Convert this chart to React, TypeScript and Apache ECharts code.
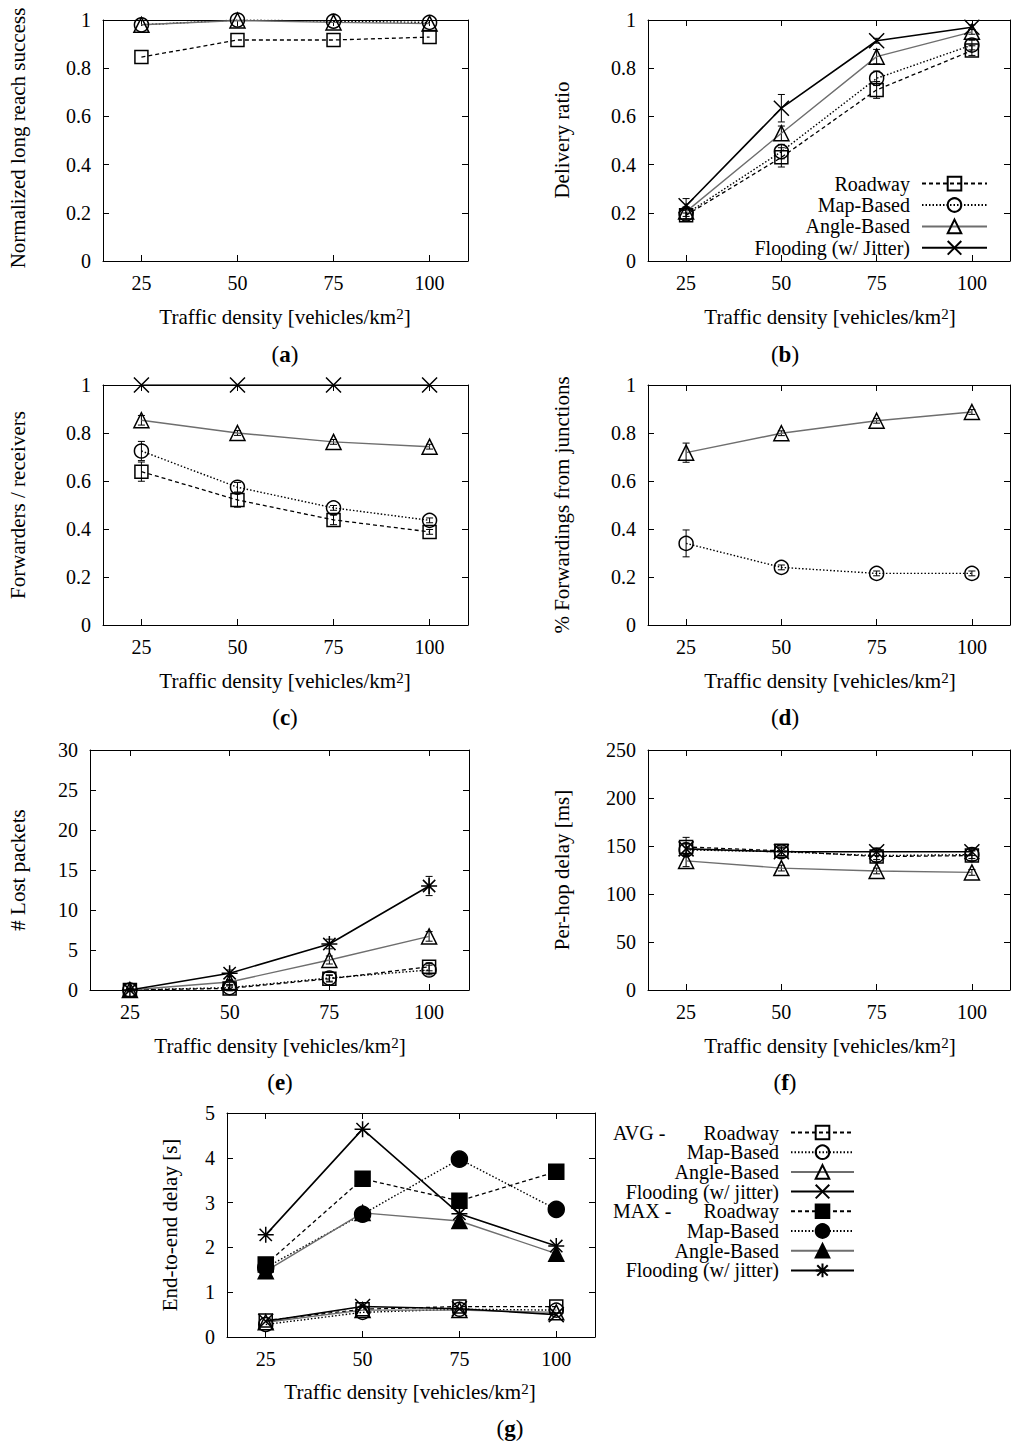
import React, { useEffect, useRef } from "react";
import * as echarts from "echarts";

const FONT = "'Liberation Serif', 'Times New Roman', serif";

// ---------- data ----------
const densities = [25, 50, 75, 100];

// (a) Normalized long reach success
const aRoadway = [0.846, 0.917, 0.917, 0.929];
const aMap = [0.98, 1.0, 0.995, 0.99];
const aAngle = [0.98, 0.998, 0.99, 0.985];

// (b) Delivery ratio
const bRoadway = [0.19, 0.43, 0.71, 0.873];
const bMap = [0.195, 0.454, 0.758, 0.896];
const bAngle = [0.205, 0.53, 0.848, 0.951];
const bFlood = [0.229, 0.634, 0.914, 0.97];
const bRoadwayErr = [0.02, 0.04, 0.035, 0.02];
const bMapErr = [0.02, 0.03, 0.03, 0.02];
const bAngleErr = [0.02, 0.03, 0.03, 0.01];
const bFloodErr = [0.03, 0.057, 0.01, 0.01];

// (c) Forwarders / receivers
const cRoadway = [0.639, 0.521, 0.438, 0.388];
const cMap = [0.725, 0.574, 0.488, 0.436];
const cAngle = [0.853, 0.8, 0.763, 0.743];
const cFlood = [1, 1, 1, 1];
const cRoadwayErr = [0.04, 0.03, 0.02, 0.01];
const cMapErr = [0.04, 0.02, 0.01, 0.01];
const cAngleErr = [0.02, 0.01, 0.01, 0.01];

// (d) % Forwardings from junctions
const dMap = [0.34, 0.24, 0.215, 0.215];
const dAngle = [0.718, 0.799, 0.851, 0.8875];
const dMapErr = [0.056, 0.01, 0.01, 0.01];
const dAngleErr = [0.04, 0.01, 0.01, 0.01];

// (e) # Lost packets
const eRoadway = [0, 0.2, 1.4, 2.9];
const eMap = [0, 0.3, 1.5, 2.5];
const eAngle = [0, 1.0, 3.75, 6.7];
const eFlood = [0, 2.1, 5.75, 13.0];
const eRoadwayErr = [0.1, 0.3, 0.4, 0.5];
const eMapErr = [0.1, 0.3, 0.4, 0.6];
const eAngleErr = [0.1, 0.3, 0.5, 0.6];
const eFloodErr = [0.1, 0.4, 0.6, 1.2];

// (f) Per-hop delay [ms]
const fRoadway = [149, 145, 139, 140];
const fMap = [146, 144, 140, 141];
const fAngle = [134.5, 127, 124, 122.5];
const fFlood = [147, 144, 144, 144];
const fRoadwayErr = [10, 5, 5, 5];
const fMapErr = [6, 4, 4, 4];
const fAngleErr = [6, 3, 3, 3];
const fFloodErr = [6, 4, 4, 4];

// (g) End-to-end delay [s]
const gAvgRoadway = [0.37, 0.62, 0.68, 0.68];
const gAvgMap = [0.28, 0.55, 0.62, 0.6];
const gAvgAngle = [0.33, 0.6, 0.6, 0.55];
const gAvgFlood = [0.35, 0.68, 0.63, 0.5];
const gMaxRoadway = [1.62, 3.53, 3.04, 3.69];
const gMaxMap = [1.55, 2.74, 3.97, 2.85];
const gMaxAngle = [1.47, 2.77, 2.59, 1.86];
const gMaxFlood = [2.28, 4.64, 2.75, 2.03];

const yTitleTexts = [
  "Normalized long reach success",
  "Delivery ratio",
  "Forwarders / receivers",
  "% Forwardings from junctions",
  "# Lost packets",
  "Per-hop delay [ms]",
  "End-to-end delay [s]",
];
const panelLetters = ["a", "b", "c", "d", "e", "f", "g"];
const yMaxes = [1, 1, 1, 1, 30, 250, 5];
const yIntervals = [0.2, 0.2, 0.2, 0.2, 5, 50, 1];

// ---------- layout ----------
const PANELS = [
  { left: 103, top: 20, width: 365, height: 241, yt: [18, 138], xt: [285, 317], pl: [285, 354] },
  { left: 648, top: 20, width: 362, height: 241, yt: [562, 140], xt: [830, 317], pl: [785, 354] },
  { left: 103, top: 385, width: 365, height: 240, yt: [18, 505], xt: [285, 681], pl: [285, 717] },
  { left: 648, top: 385, width: 362, height: 240, yt: [562, 505], xt: [830, 681], pl: [785, 717] },
  { left: 90, top: 750, width: 379, height: 240, yt: [18, 870], xt: [280, 1046], pl: [280, 1082] },
  { left: 648, top: 750, width: 362, height: 240, yt: [562, 870], xt: [830, 1046], pl: [785, 1082] },
  { left: 227, top: 1113, width: 368, height: 224, yt: [170, 1225], xt: [410, 1392], pl: [510, 1428] },
];

const X_PATH = "path://M0,0L10,10M10,0L0,10";
const STAR_PATH = "path://M0,0L10,10M10,0L0,10M5,-1.5L5,11.5M-1.5,5L11.5,5";

const STYLES: Record<string, any> = {
  roadway: { lineStyle: { color: "#000", width: 1.3, type: [4, 3] }, symbol: "rect", size: 13 },
  map: { lineStyle: { color: "#000", width: 1.4, type: [1.5, 2] }, symbol: "circle", size: 14 },
  angle: { lineStyle: { color: "#6e6e6e", width: 1.4, type: "solid" }, symbol: "triangle", size: 15 },
  flood: { lineStyle: { color: "#000", width: 1.6, type: "solid" }, symbol: X_PATH, size: 15 },
  roadwayMax: { lineStyle: { color: "#000", width: 1.3, type: [4, 3] }, symbol: "rect", size: 15, filled: true },
  mapMax: { lineStyle: { color: "#000", width: 1.4, type: [1.5, 2] }, symbol: "circle", size: 16, filled: true },
  angleMax: { lineStyle: { color: "#6e6e6e", width: 1.4, type: "solid" }, symbol: "triangle", size: 15, filled: true },
  floodMax: { lineStyle: { color: "#000", width: 1.6, type: "solid" }, symbol: STAR_PATH, size: 16 },
};

function lineSeries(name: string, panel: number, values: number[], styleKey: string) {
  const st = STYLES[styleKey];
  return {
    type: "line",
    name,
    xAxisIndex: panel * 2,
    yAxisIndex: panel * 2,
    data: densities.map((d, i) => [d, values[i]]),
    symbol: st.symbol,
    symbolSize: st.size,
    showSymbol: true,
    lineStyle: st.lineStyle,
    itemStyle: {
      color: st.filled ? "#000" : "rgba(255,255,255,0)",
      borderColor: "#000",
      borderWidth: 1.5,
    },
    emphasis: { disabled: true },
    silent: true,
    z: 3,
  };
}

function errSeries(panel: number, values: number[], errs: number[]) {
  return {
    type: "custom",
    xAxisIndex: panel * 2,
    yAxisIndex: panel * 2,
    coordinateSystem: "cartesian2d",
    silent: true,
    z: 2,
    encode: { x: 0, y: 1 },
    data: densities.map((d, i) => [d, values[i], errs[i]]),
    renderItem: (params: any, api: any) => {
      const x = api.value(0);
      const y = api.value(1);
      const e = api.value(2);
      const top = api.coord([x, y + e]);
      const bot = api.coord([x, y - e]);
      const w = 3.5;
      const style = { stroke: "#000", lineWidth: 1 };
      return {
        type: "group",
        children: [
          { type: "line", shape: { x1: top[0], y1: top[1], x2: bot[0], y2: bot[1] }, style },
          { type: "line", shape: { x1: top[0] - w, y1: top[1], x2: top[0] + w, y2: top[1] }, style },
          { type: "line", shape: { x1: bot[0] - w, y1: bot[1], x2: bot[0] + w, y2: bot[1] }, style },
        ],
      };
    },
  };
}

function buildOption() {
  const grids: any[] = [];
  const xAxes: any[] = [];
  const yAxes: any[] = [];
  const axisLine = { show: true, onZero: false, lineStyle: { color: "#000", width: 1 } };
  const labelStyle = { color: "#000", fontSize: 20, fontFamily: FONT, margin: 12 };

  PANELS.forEach((p, i) => {
    grids.push({ left: p.left, top: p.top, width: p.width, height: p.height, containLabel: false });
    const xBase = {
      type: "value",
      gridIndex: i,
      min: 15,
      max: 110,
      splitLine: { show: false },
      axisLine,
      axisTick: { show: true, inside: true, length: 6, customValues: densities, lineStyle: { color: "#000" } },
    };
    xAxes.push({ ...xBase, position: "bottom", axisLabel: { ...labelStyle, show: true, customValues: densities } });
    xAxes.push({ ...xBase, position: "top", axisLabel: { show: false } });
    const yBase = {
      type: "value",
      gridIndex: i,
      min: 0,
      max: yMaxes[i],
      interval: yIntervals[i],
      splitLine: { show: false },
      axisLine,
      axisTick: { show: true, inside: true, length: 6, lineStyle: { color: "#000" } },
    };
    yAxes.push({ ...yBase, position: "left", axisLabel: { ...labelStyle, show: true } });
    yAxes.push({ ...yBase, position: "right", axisLabel: { show: false } });
  });

  const series: any[] = [
    // (a)
    lineSeries("Roadway", 0, aRoadway, "roadway"),
    lineSeries("Map-Based", 0, aMap, "map"),
    lineSeries("Angle-Based", 0, aAngle, "angle"),
    // (b)
    errSeries(1, bRoadway, bRoadwayErr),
    errSeries(1, bMap, bMapErr),
    errSeries(1, bAngle, bAngleErr),
    errSeries(1, bFlood, bFloodErr),
    lineSeries("Roadway", 1, bRoadway, "roadway"),
    lineSeries("Map-Based", 1, bMap, "map"),
    lineSeries("Angle-Based", 1, bAngle, "angle"),
    lineSeries("Flooding (w/ Jitter)", 1, bFlood, "flood"),
    // (c)
    errSeries(2, cRoadway, cRoadwayErr),
    errSeries(2, cMap, cMapErr),
    errSeries(2, cAngle, cAngleErr),
    lineSeries("Roadway", 2, cRoadway, "roadway"),
    lineSeries("Map-Based", 2, cMap, "map"),
    lineSeries("Angle-Based", 2, cAngle, "angle"),
    lineSeries("Flooding (w/ Jitter)", 2, cFlood, "flood"),
    // (d)
    errSeries(3, dMap, dMapErr),
    errSeries(3, dAngle, dAngleErr),
    lineSeries("Map-Based", 3, dMap, "map"),
    lineSeries("Angle-Based", 3, dAngle, "angle"),
    // (e)
    errSeries(4, eRoadway, eRoadwayErr),
    errSeries(4, eMap, eMapErr),
    errSeries(4, eAngle, eAngleErr),
    errSeries(4, eFlood, eFloodErr),
    lineSeries("Roadway", 4, eRoadway, "roadway"),
    lineSeries("Map-Based", 4, eMap, "map"),
    lineSeries("Angle-Based", 4, eAngle, "angle"),
    lineSeries("Flooding (w/ Jitter)", 4, eFlood, "floodMax"),
    // (f)
    errSeries(5, fRoadway, fRoadwayErr),
    errSeries(5, fMap, fMapErr),
    errSeries(5, fAngle, fAngleErr),
    errSeries(5, fFlood, fFloodErr),
    lineSeries("Roadway", 5, fRoadway, "roadway"),
    lineSeries("Map-Based", 5, fMap, "map"),
    lineSeries("Angle-Based", 5, fAngle, "angle"),
    lineSeries("Flooding (w/ Jitter)", 5, fFlood, "flood"),
    // (g)
    lineSeries("AVG Roadway", 6, gAvgRoadway, "roadway"),
    lineSeries("AVG Map-Based", 6, gAvgMap, "map"),
    lineSeries("AVG Angle-Based", 6, gAvgAngle, "angle"),
    lineSeries("AVG Flooding (w/ jitter)", 6, gAvgFlood, "flood"),
    lineSeries("MAX Roadway", 6, gMaxRoadway, "roadwayMax"),
    lineSeries("MAX Map-Based", 6, gMaxMap, "mapMax"),
    lineSeries("MAX Angle-Based", 6, gMaxAngle, "angleMax"),
    lineSeries("MAX Flooding (w/ jitter)", 6, gMaxFlood, "floodMax"),
  ];

  const legendText = { color: "#000", fontSize: 20, fontFamily: FONT, padding: [0, 7, 0, 0] };
  const legends = [
    {
      data: ["Roadway", "Map-Based", "Angle-Based", "Flooding (w/ Jitter)"],
      orient: "vertical",
      align: "right",
      right: 36,
      top: 173.6,
      itemWidth: 65,
      itemHeight: 17,
      itemGap: 1.4,
      padding: 0,
      selectedMode: false,
      textStyle: legendText,
    },
    {
      data: [
        "AVG Roadway",
        "AVG Map-Based",
        "AVG Angle-Based",
        "AVG Flooding (w/ jitter)",
        "MAX Roadway",
        "MAX Map-Based",
        "MAX Angle-Based",
        "MAX Flooding (w/ jitter)",
      ],
      formatter: (name: string) => name.replace(/^(AVG|MAX) /, ""),
      orient: "vertical",
      align: "right",
      right: 169,
      top: 1122.5,
      itemWidth: 63,
      itemHeight: 17,
      itemGap: -0.3,
      padding: 0,
      selectedMode: false,
      textStyle: legendText,
    },
  ];

  const graphic: any[] = [];
  PANELS.forEach((p, i) => {
    graphic.push({
      type: "text",
      x: p.yt[0],
      y: p.yt[1],
      rotation: Math.PI / 2,
      style: { text: yTitleTexts[i], fill: "#000", font: `21px ${FONT}`, align: "center", verticalAlign: "middle" },
      silent: true,
    });
    graphic.push({
      type: "text",
      x: p.xt[0],
      y: p.xt[1],
      style: {
        text: "Traffic density [vehicles/km{sup|2}]",
        fill: "#000",
        fontSize: 21,
        fontFamily: FONT,
        align: "center",
        verticalAlign: "middle",
        rich: {
          sup: { fontSize: 15, fontFamily: FONT, verticalAlign: "top", padding: [0, 0, 4, 0], fill: "#000" },
        },
      },
      silent: true,
    });
    graphic.push({
      type: "text",
      x: p.pl[0],
      y: p.pl[1],
      style: {
        text: `({b|${panelLetters[i]}})`,
        fill: "#000",
        fontSize: 23,
        fontFamily: FONT,
        align: "center",
        verticalAlign: "middle",
        rich: { b: { fontSize: 23, fontFamily: FONT, fontWeight: "bold", fill: "#000" } },
      },
      silent: true,
    });
  });
  graphic.push({
    type: "text",
    x: 613,
    y: 1133,
    style: { text: "AVG -", fill: "#000", font: `20px ${FONT}`, align: "left", verticalAlign: "middle" },
    silent: true,
  });
  graphic.push({
    type: "text",
    x: 613,
    y: 1211,
    style: { text: "MAX -", fill: "#000", font: `20px ${FONT}`, align: "left", verticalAlign: "middle" },
    silent: true,
  });

  return {
    animation: false,
    backgroundColor: "#fff",
    textStyle: { fontFamily: FONT, color: "#000" },
    grid: grids,
    xAxis: xAxes,
    yAxis: yAxes,
    legend: legends,
    series,
    graphic,
  };
}

export default function App() {
  const ref = useRef<HTMLDivElement>(null);
  useEffect(() => {
    if (!ref.current) return;
    const chart = echarts.init(ref.current, undefined, { renderer: "svg" });
    chart.setOption(buildOption() as any);
    return () => chart.dispose();
  }, []);
  return (
    <div
      ref={ref}
      style={{ position: "absolute", left: 0, top: 0, width: 1024, height: 1448, background: "#fff" }}
    />
  );
}
